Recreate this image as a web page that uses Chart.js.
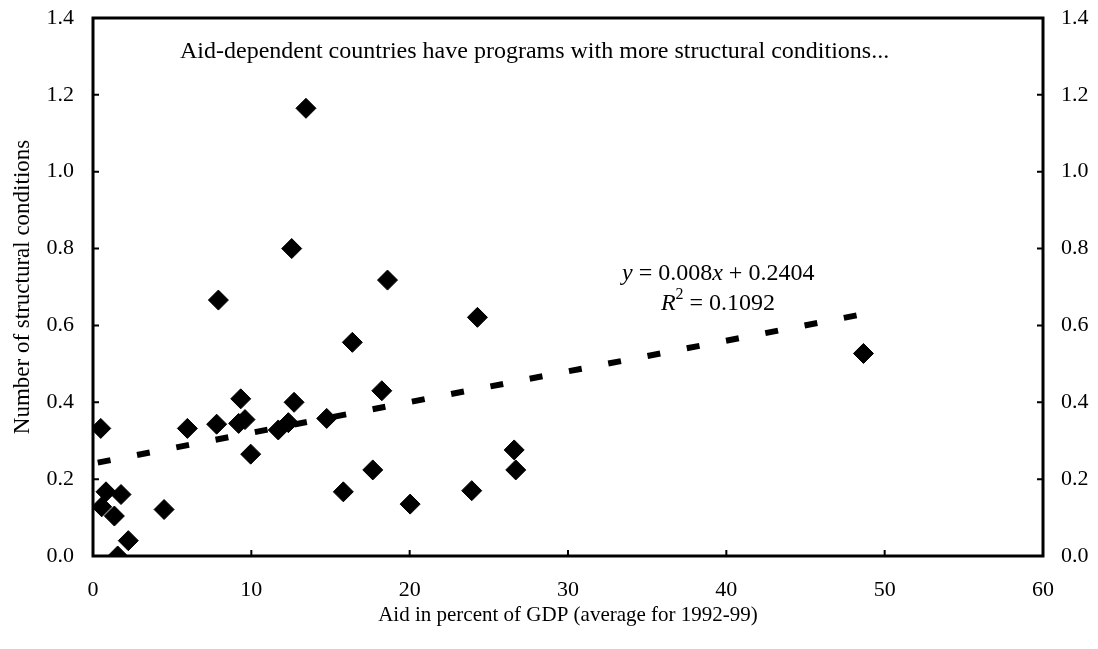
<!DOCTYPE html>
<html>
<head>
<meta charset="utf-8">
<script src="https://cdn.jsdelivr.net/npm/chart.js@4.4.1/dist/chart.umd.min.js"></script>
<style>
  html, body { margin: 0; padding: 0; background: #fff; }
  #wrap { width: 1098px; height: 649px; position: relative; }
</style>
</head>
<body>
<div id="wrap"><canvas id="aidChart"></canvas></div>
<script>
// valores
const xTicks = [0, 10, 20, 30, 40, 50, 60];
const yTicks = [0, 0.2, 0.4, 0.6, 0.8, 1.0, 1.2, 1.4];

const aidPct = [0.49, 0.82, 1.77, 0.55, 1.35, 2.23, 1.56, 4.49, 5.96, 7.81, 7.92,
                9.33, 9.2, 9.6, 9.96, 11.7, 12.34, 12.7, 12.55, 13.45, 14.76,
                16.38, 15.81, 17.67, 18.24, 18.6, 20.03, 23.92, 24.28, 26.6, 26.7, 48.66];
const condicoes = [0.332, 0.167, 0.160, 0.128, 0.104, 0.040, 0.000, 0.121, 0.332, 0.343, 0.666,
                   0.409, 0.345, 0.355, 0.265, 0.328, 0.347, 0.400, 0.800, 1.165, 0.358,
                   0.556, 0.167, 0.224, 0.430, 0.718, 0.135, 0.170, 0.621, 0.276, 0.224, 0.527];

// linha de tendência (extremos)
const trendX = [0.3, 48.7];
const trendY = [0.243, 0.630];

const FONT = "'Liberation Serif', 'Times New Roman', serif";

// tamanho fixo dos eixos, sem padding extra dos rótulos
function fixarEixo(s, w, h) {
    if (w !== null) s.width = w;
    if (h !== null) s.height = h;
    s.paddingTop = 0; s.paddingBottom = 0; s.paddingLeft = 0; s.paddingRight = 0;
}

const molduraPlugin = {
    id: 'moldura',
    beforeDraw(chart) {
        const ctx = chart.ctx;
        ctx.save();
        ctx.fillStyle = '#fff';
        ctx.fillRect(0, 0, chart.width, chart.height);
        ctx.restore();
    },
    afterDraw(chart) {
        const ctx = chart.ctx;
        const a = chart.chartArea;
        const sx = chart.scales.x, sy = chart.scales.y;
        ctx.save();
        ctx.strokeStyle = '#000';
        ctx.lineWidth = 3;
        ctx.strokeRect(a.left, a.top, a.right - a.left, a.bottom - a.top);

        // ticks para dentro
        ctx.lineWidth = 2;
        ctx.beginPath();
        xTicks.forEach(v => {
            const px = sx.getPixelForValue(v);
            ctx.moveTo(px, a.bottom); ctx.lineTo(px, a.bottom - 6);
        });
        yTicks.forEach(v => {
            const py = sy.getPixelForValue(v);
            ctx.moveTo(a.left, py); ctx.lineTo(a.left + 6, py);
            ctx.moveTo(a.right, py); ctx.lineTo(a.right - 6, py);
        });
        ctx.stroke();

        // textos
        ctx.fillStyle = '#000';
        ctx.textBaseline = 'middle';
        ctx.font = `24px ${FONT}`;
        ctx.fillText('Aid-dependent countries have programs with more structural conditions...', 180, 52);

        // equação com itálico
        const partes = [
            ['italic', 'y'], ['normal', ' = 0.008'], ['italic', 'x'], ['normal', ' + 0.2404']
        ];
        let x = 622;
        partes.forEach(([st, t]) => {
            ctx.font = `${st} 24px ${FONT}`;
            ctx.fillText(t, x, 274);
            x += ctx.measureText(t).width;
        });

        ctx.font = `italic 24px ${FONT}`;
        const wR = ctx.measureText('R').width;
        ctx.font = `16px ${FONT}`;
        const w2 = ctx.measureText('2').width;
        ctx.font = `24px ${FONT}`;
        const wResto = ctx.measureText(' = 0.1092').width;
        let xr = 718 - (wR + w2 + wResto) / 2;
        ctx.font = `italic 24px ${FONT}`;
        ctx.fillText('R', xr, 304); xr += wR;
        ctx.font = `16px ${FONT}`;
        ctx.fillText('2', xr, 295); xr += w2;
        ctx.font = `24px ${FONT}`;
        ctx.fillText(' = 0.1092', xr, 304);
        ctx.restore();
    }
};

document.addEventListener('DOMContentLoaded', () => {
    const ctx = document.getElementById('aidChart').getContext('2d');
    const pontos = aidPct.map((v, i) => ({ x: v, y: condicoes[i] }));
    const tendencia = trendX.map((v, i) => ({ x: v, y: trendY[i] }));

    new Chart(ctx, {
        type: 'scatter',
        data: {
            datasets: [{
                label: 'Países',
                data: pontos,
                pointStyle: 'rectRot',
                pointRadius: 10,
                backgroundColor: '#000',
                borderColor: '#000',
                borderWidth: 1
            }, {
                type: 'line',
                label: 'Tendência',
                data: tendencia,
                borderColor: '#000',
                borderWidth: 6,
                borderDash: [13, 27],
                borderCapStyle: 'butt',
                pointRadius: 0,
                fill: false
            }]
        },
        options: {
            responsive: true,
            maintainAspectRatio: false,
            animation: false,
            layout: { padding: { top: 18, right: 0, left: 0, bottom: 0 } },
            plugins: { legend: { display: false }, tooltip: { enabled: false } },
            scales: {
                x: {
                    type: 'linear', min: 0, max: 60,
                    afterFit: s => fixarEixo(s, null, 93),
                    grid: { display: false }, border: { display: false },
                    ticks: { stepSize: 10, color: '#000', font: { family: FONT, size: 22 }, padding: 13 },
                    title: { display: true, text: 'Aid in percent of GDP (average for 1992-99)', color: '#000',
                             font: { family: FONT, size: 21 }, padding: { top: 0, bottom: 21 } }
                },
                y: {
                    type: 'linear', position: 'left', min: 0, max: 1.4,
                    afterFit: s => fixarEixo(s, 93, null),
                    grid: { display: false }, border: { display: false },
                    ticks: { stepSize: 0.2, color: '#000', font: { family: FONT, size: 22 }, padding: 11,
                             callback: v => v.toFixed(1) },
                    title: { display: true, text: 'Number of structural conditions', color: '#000',
                             font: { family: FONT, size: 23 }, padding: { top: 9, bottom: 0 } }
                },
                y2: {
                    type: 'linear', position: 'right', min: 0, max: 1.4,
                    afterFit: s => fixarEixo(s, 55, null),
                    grid: { display: false }, border: { display: false },
                    ticks: { stepSize: 0.2, color: '#000', font: { family: FONT, size: 22 }, padding: 10,
                             callback: v => v.toFixed(1) }
                }
            }
        },
        plugins: [molduraPlugin]
    });
});
</script>
</body>
</html>
